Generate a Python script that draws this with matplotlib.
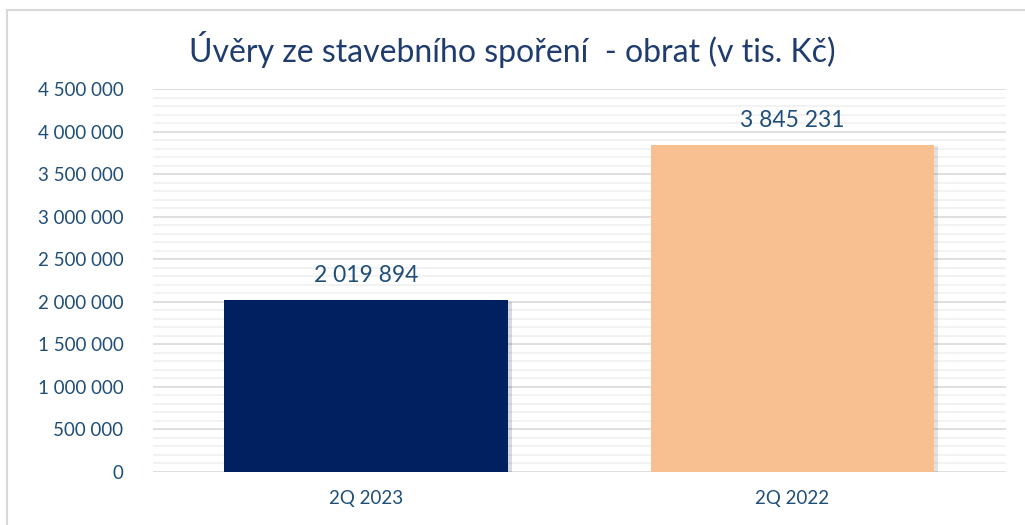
import matplotlib
matplotlib.use('Agg')
import matplotlib.pyplot as plt
import matplotlib.patheffects as pe
from matplotlib.ticker import MultipleLocator, FuncFormatter

# data
categories = ['2Q 2023', '2Q 2022']
values = [2019894, 3845231]
bar_colors = ['#002060', '#F8C090']
title = 'Úvěry ze stavebního spoření  - obrat (v tis. Kč)'

plt.rcParams['font.family'] = ['Lato', 'DejaVu Sans']
text_color = '#1F4E79'

def fmt(v, pos=None):
    return f'{int(v):,}'.replace(',', ' ')

fig = plt.figure(figsize=(10.25, 5.25), dpi=100)
ax = fig.add_axes([0.149, 0.101, 0.832, 0.729])

bars = ax.bar(categories, values, width=0.665, color=bar_colors, zorder=3)
for b in bars:
    b.set_path_effects([pe.SimplePatchShadow(offset=(3, -1), alpha=0.15), pe.Normal()])

for b, v in zip(bars, values):
    ax.annotate(fmt(v), (b.get_x() + b.get_width() / 2, v), xytext=(0, 10),
                textcoords='offset points', ha='center', va='bottom',
                fontsize=16.5, color=text_color)

ax.set_ylim(0, 4500000)
ax.set_xlim(-0.5, 1.5)
ax.yaxis.set_major_locator(MultipleLocator(500000))
ax.yaxis.set_minor_locator(MultipleLocator(100000))
ax.yaxis.set_major_formatter(FuncFormatter(fmt))
ax.grid(axis='y', which='major', color='#D9D9D9', linewidth=1.2, zorder=0)
ax.grid(axis='y', which='minor', color='#F0F0F0', linewidth=1.2, zorder=0)
ax.tick_params(axis='both', which='both', length=0, labelsize=13.5, colors=text_color)
ax.tick_params(axis='y', pad=21)
ax.tick_params(axis='x', pad=13)
for s in ax.spines.values():
    s.set_visible(False)

fig.text(0.5, 0.905, title, ha='center', va='center', fontsize=23, color='#1F3C6E')

# outer frame lines (top and left)
fig.add_artist(plt.Line2D([0.007, 1.0], [0.981, 0.981], color='#D9D9D9', linewidth=1.5))
fig.add_artist(plt.Line2D([0.007, 0.007], [0.0, 0.981], color='#D9D9D9', linewidth=1.5))

fig.savefig('out.png', dpi=100)
